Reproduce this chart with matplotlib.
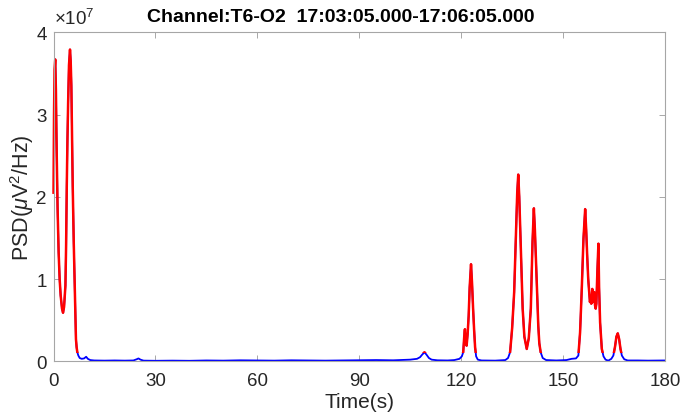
import numpy as np
import matplotlib
matplotlib.use("Agg")
import matplotlib.pyplot as plt
from matplotlib.patches import Rectangle

# PSD trace (values in units of 1e7 uV^2/Hz)
time_s = [
    0, 0.15, 0.3, 0.5, 0.7, 0.93, 1.2, 1.5, 1.8, 2.1, 2.5, 2.8, 3.1, 3.5, 3.7,
    3.9, 4.1, 4.3, 4.55, 4.85, 5.05, 5.25, 5.45, 5.65, 5.95, 6.24, 6.45, 6.6,
    6.8, 7.0, 7.3, 7.7, 8.3, 9.0, 9.6, 10.1, 10.8, 12, 15, 18, 21, 23.5, 24.5,
    25, 25.6, 26.5, 30, 35, 40, 45, 50, 55, 60, 65, 70, 75, 80, 85, 90, 95,
    100, 105, 107, 107.9, 108.5, 109.2, 109.8, 110.5, 111.3, 113, 116, 118,
    119.5, 120.2, 120.6, 120.9, 121.1, 121.3, 121.5, 121.6, 121.9, 122.2,
    122.5, 122.9, 123.2, 123.5, 123.8, 124.1, 124.4, 124.9, 126, 130, 133,
    133.8, 134.4, 135.0, 135.6, 136.2, 136.5, 136.8, 137.1, 137.5, 138.1,
    138.6, 139.3, 139.9, 140.5, 141.0, 141.4, 141.7, 142.0, 142.4, 142.7,
    143.0, 143.4, 144, 145, 148, 151, 152.5, 153.8, 154.5, 155.0, 155.5,
    156.0, 156.5, 156.8, 157.1, 157.4, 157.7, 157.9, 158.1, 158.3, 158.6,
    158.75, 158.9, 159.05, 159.2, 159.4, 159.6, 159.8, 160.1, 160.4, 160.6,
    160.9, 161.4, 161.9, 162.5, 163.3, 164.2, 164.8, 165.3, 165.7, 166.1,
    166.5, 166.9, 167.3, 168, 169, 172, 175, 178, 180,
]
psd_e7 = [
    2.05, 3.0, 3.55, 3.67, 3.3, 2.54, 1.85, 1.33, 1.0, 0.8, 0.64, 0.59, 0.66,
    0.92, 1.4, 2.13, 2.7, 3.15, 3.6, 3.79, 3.65, 3.35, 2.75, 2.13, 1.45, 0.92,
    0.5, 0.27, 0.17, 0.11, 0.07, 0.04, 0.03, 0.035, 0.055, 0.03, 0.015, 0.01,
    0.008, 0.01, 0.008, 0.01, 0.025, 0.035, 0.02, 0.008, 0.006, 0.008, 0.006,
    0.01, 0.008, 0.012, 0.01, 0.008, 0.012, 0.01, 0.008, 0.01, 0.012, 0.015,
    0.012, 0.02, 0.03, 0.05, 0.08, 0.11, 0.08, 0.04, 0.02, 0.012, 0.01, 0.015,
    0.03, 0.06, 0.11, 0.3, 0.39, 0.25, 0.32, 0.19, 0.33, 0.55, 0.9, 1.18,
    0.95, 0.65, 0.39, 0.17, 0.06, 0.02, 0.01, 0.008, 0.015, 0.04, 0.11, 0.4,
    0.84, 1.65, 2.05, 2.27, 2.0, 1.45, 0.64, 0.3, 0.15, 0.28, 0.64, 1.45,
    1.86, 1.6, 1.24, 0.75, 0.43, 0.22, 0.11, 0.04, 0.015, 0.01, 0.015, 0.03,
    0.035, 0.07, 0.35, 0.88, 1.49, 1.85, 1.6, 1.28, 1.0, 0.84, 0.72, 0.76,
    0.7, 0.88, 0.72, 0.76, 0.82, 0.84, 0.68, 0.64, 0.7, 1.1, 1.43, 0.9, 0.47,
    0.15, 0.06, 0.02, 0.008, 0.03, 0.07, 0.18, 0.3, 0.34, 0.27, 0.15, 0.07,
    0.025, 0.01, 0.01, 0.008, 0.01, 0.01,
]
x_ticks = [0, 30, 60, 90, 120, 150, 180]
y_ticks = [0, 1, 2, 3, 4]
threshold = 0.1

plt.rcParams['font.family'] = ['Liberation Sans', 'DejaVu Sans']
plt.rcParams['mathtext.fontset'] = 'custom'
plt.rcParams['mathtext.rm'] = 'Liberation Sans'
plt.rcParams['mathtext.it'] = 'Liberation Sans:italic'

fig = plt.figure(figsize=(6.81, 4.14), dpi=100)
ax = fig.add_axes([0.0786, 0.1249, 0.8979, 0.7947])

ax.plot(time_s, psd_e7, color='#0000ff', lw=1.3)
red, = ax.plot(time_s, psd_e7, color='#ff0000', lw=1.8)
# red only where the PSD is above the threshold
clip = Rectangle((-5, threshold), 190, 10, transform=ax.transData)
red.set_clip_path(clip)

ax.set_xlim(0, 180)
ax.set_ylim(0, 4)
ax.set_xticks(x_ticks)
ax.set_yticks(y_ticks)
ax.tick_params(direction='in', length=4.5, width=0.6, color='#9a9a9a',
               top=True, right=True, labelsize=13.5, labelcolor='#262626')
ax.tick_params(axis='x', pad=8)
ax.tick_params(axis='y', pad=5)
for s in ax.spines.values():
    s.set_color('#a6a6a6')
    s.set_linewidth(0.8)

ax.set_xlabel('Time(s)', fontsize=15, color='#262626', labelpad=2)
ax.set_ylabel(r'PSD($\mu$V$^2$/Hz)', fontsize=15.5, color='#262626', labelpad=0)
ax.text(0.0, 1.012, r'$\times10^{7}$', transform=ax.transAxes,
        ha='left', va='bottom', fontsize=13.5, color='#262626')
fig.text(0.501, 0.958, 'Channel:T6-O2  17:03:05.000-17:06:05.000',
         ha='center', va='center', fontsize=14, fontweight='bold', color='black')

fig.savefig('out.png', dpi=100)
